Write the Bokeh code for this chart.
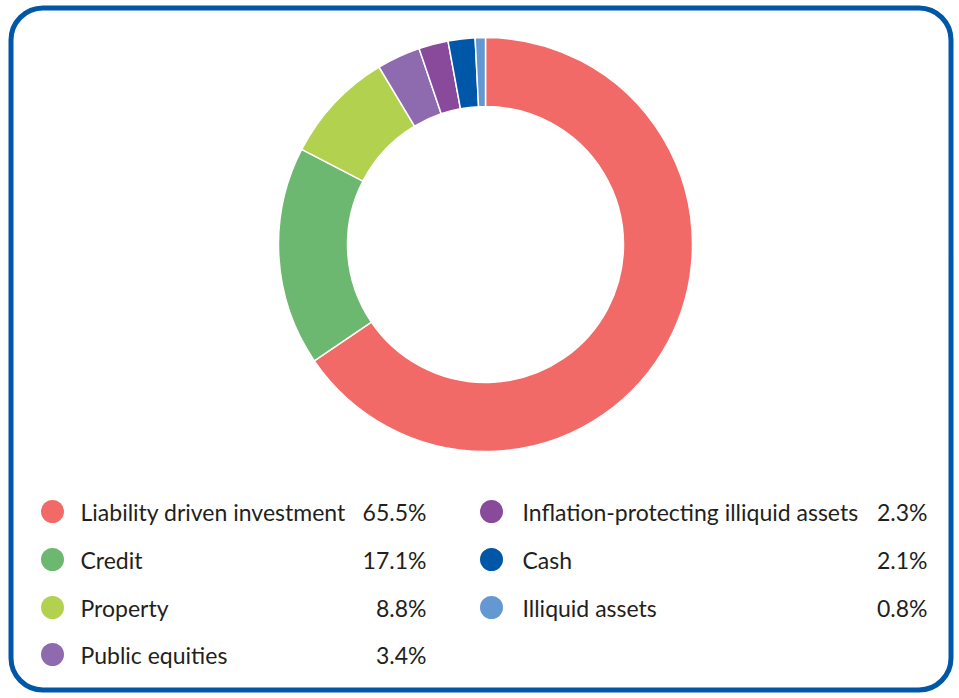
import math
from bokeh.plotting import figure
from bokeh.models import Range1d, ColumnDataSource
from bokeh.core.properties import value
from bokeh.embed import file_html
from bokeh.resources import INLINE

categories = ["Liability driven investment", "Credit", "Property", "Public equities",
              "Inflation-protecting illiquid assets", "Cash", "Illiquid assets"]
shares = [65.5, 17.1, 8.8, 3.4, 2.3, 2.1, 0.8]
labels = ["65.5%", "17.1%", "8.8%", "3.4%", "2.3%", "2.1%", "0.8%"]
colors = ["#F26A67", "#6DB870", "#B2D24F", "#8E6BAF", "#8A4A9C", "#0057A8", "#6498D2"]

W, H = 959, 698
FONT = "Lato"
TEXT_COLOR = "#231F20"

def sy(y):
    # screen y (pixel from top) -> data y
    return H - y

p = figure(width=W, height=H, output_backend="svg", toolbar_location=None,
           x_range=Range1d(0, W), y_range=Range1d(0, H),
           min_border=0, outline_line_color=None)
p.axis.visible = False
p.grid.visible = False
p.background_fill_color = "white"
p.border_fill_color = "white"

# rounded frame
p.quad(left=[10.5], right=[950.5], top=[sy(7.5)], bottom=[sy(689.5)],
       fill_color=None, line_color="#0057A8", line_width=5, border_radius=32)

# donut
total = sum(shares)
starts, ends = [], []
cum = 0.0
for s in shares:
    starts.append(math.pi / 2 - cum / total * 2 * math.pi)
    cum += s
    ends.append(math.pi / 2 - cum / total * 2 * math.pi)

src = ColumnDataSource(dict(start=starts, end=ends, color=colors))
p.annular_wedge(x=485, y=sy(244), inner_radius=138, outer_radius=207,
                inner_radius_units="screen", outer_radius_units="screen",
                start_angle="start", end_angle="end", direction="clock",
                fill_color="color", line_color="white", line_width=1.5, source=src)

# legend
col_dot_x = [52, 491]
col_txt_x = [80, 522]
col_val_x = [426, 927]
row_y = [511, 559, 607, 654]
lx, ly, tx, vx = [], [], [], []
for i in range(len(categories)):
    c = 0 if i < 4 else 1
    r = i if i < 4 else i - 4
    lx.append(col_dot_x[c]); ly.append(sy(row_y[r]))
    tx.append(col_txt_x[c]); vx.append(col_val_x[c])
lsrc = ColumnDataSource(dict(dx=lx, y=ly, tx=tx, vx=vx, color=colors,
                             name=categories, val=labels))
p.scatter(x="dx", y="y", size=23, marker="circle", fill_color="color",
          line_color=None, source=lsrc)
p.text(x="tx", y="y", text="name", source=lsrc, text_font=value(FONT),
       text_font_size="23px", text_baseline="middle", text_align="left",
       text_color=TEXT_COLOR)
p.text(x="vx", y="y", text="val", source=lsrc, text_font=value(FONT),
       text_font_size="23px", text_baseline="middle", text_align="right",
       text_color=TEXT_COLOR)

open("out.html", "w").write(file_html(p, INLINE))
